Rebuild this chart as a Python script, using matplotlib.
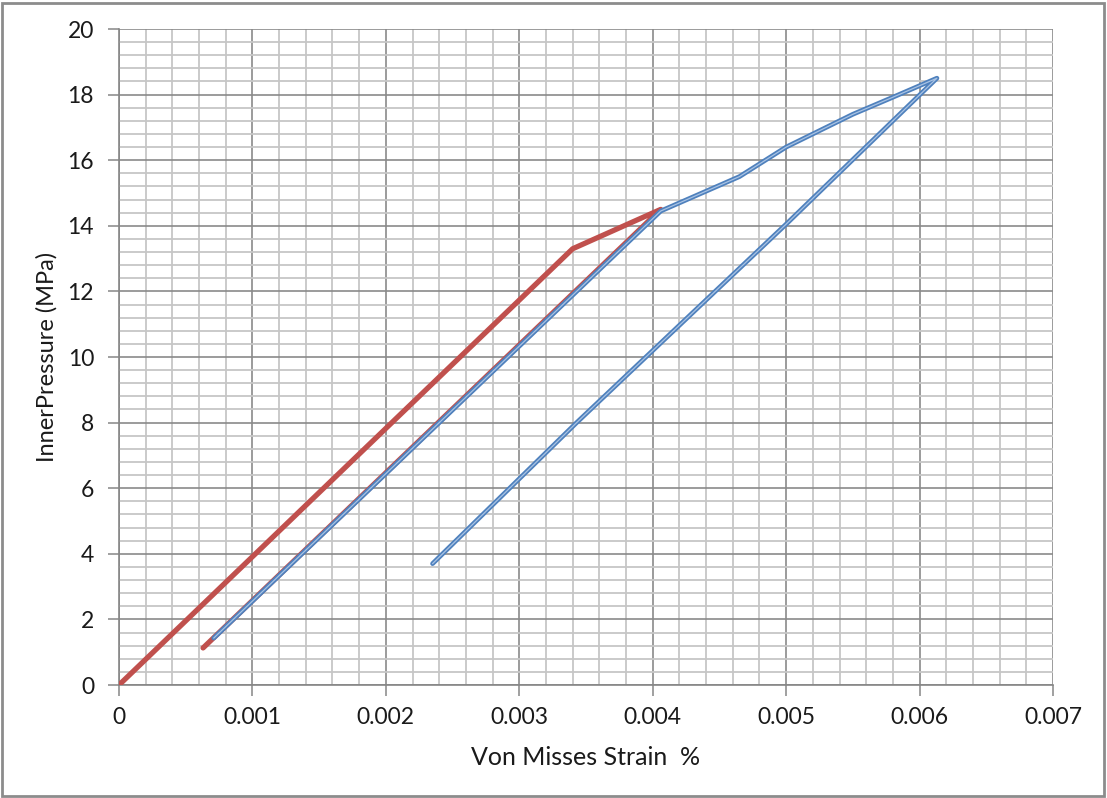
import matplotlib
matplotlib.use("Agg")
import matplotlib.pyplot as plt
from matplotlib.ticker import MultipleLocator
from matplotlib.patches import Rectangle

# data
red_strain = [0.0, 0.0034, 0.00406, 0.00063]
red_pressure = [0.0, 13.3, 14.5, 1.13]

blue_strain = [0.00071, 0.00406, 0.00465, 0.0050, 0.0055, 0.0058, 0.00613,
               0.0050, 0.00343, 0.00235]
blue_pressure = [1.43, 14.45, 15.5, 16.4, 17.4, 17.92, 18.5,
                 14.05, 8.0, 3.7]

x_ticks = [0, 0.001, 0.002, 0.003, 0.004, 0.005, 0.006, 0.007]
x_labels = ["0", "0.001", "0.002", "0.003", "0.004", "0.005", "0.006", "0.007"]

plt.rcParams["font.family"] = ["Lato", "DejaVu Sans"]

fig = plt.figure(figsize=(11.07, 7.98), dpi=100)
fig.patches.append(Rectangle((2 / 1107, 2 / 798), 1102 / 1107, 793 / 798,
                             transform=fig.transFigure, fill=False,
                             edgecolor="#8c8c8c", linewidth=2))

ax = fig.add_axes([119 / 1107, 113 / 798, 934 / 1107, 656 / 798])

ax.set_xlim(0, 0.007)
ax.set_ylim(0, 20)
ax.set_xticks(x_ticks)
ax.set_xticklabels(x_labels)
ax.yaxis.set_major_locator(MultipleLocator(2))
ax.xaxis.set_minor_locator(MultipleLocator(0.0002))
ax.yaxis.set_minor_locator(MultipleLocator(0.4))

ax.grid(which="minor", color="#c6c6c6", linewidth=1.3)
ax.grid(which="major", color="#8a8a8a", linewidth=1.2)
ax.set_axisbelow(True)

for side in ["top", "right"]:
    ax.spines[side].set_visible(False)
for side in ["left", "bottom"]:
    ax.spines[side].set_color("#868686")
    ax.spines[side].set_linewidth(1.2)

ax.tick_params(which="major", length=8, width=1.1, color="#868686",
               labelsize=16.5, labelcolor="#1a1a1a")
ax.tick_params(axis="y", pad=10)
ax.tick_params(axis="x", pad=8)
ax.tick_params(which="minor", length=0)

ax.plot(red_strain, red_pressure, color="#c0504d", linewidth=3.8,
        solid_capstyle="round", solid_joinstyle="round", zorder=3)
ax.plot(blue_strain, blue_pressure, color="#4f81bd", linewidth=3.4,
        solid_capstyle="round", solid_joinstyle="round", zorder=4)
ax.plot(blue_strain, blue_pressure, color="#a9c3e4", linewidth=0.9,
        solid_capstyle="round", solid_joinstyle="round", zorder=5)

ax.set_xlabel("Von Misses Strain  %", fontsize=18, color="#1a1a1a", labelpad=13)
ax.set_ylabel("InnerPressure (MPa)", fontsize=17, color="#1a1a1a", labelpad=7)

fig.savefig("out.png", dpi=100)
